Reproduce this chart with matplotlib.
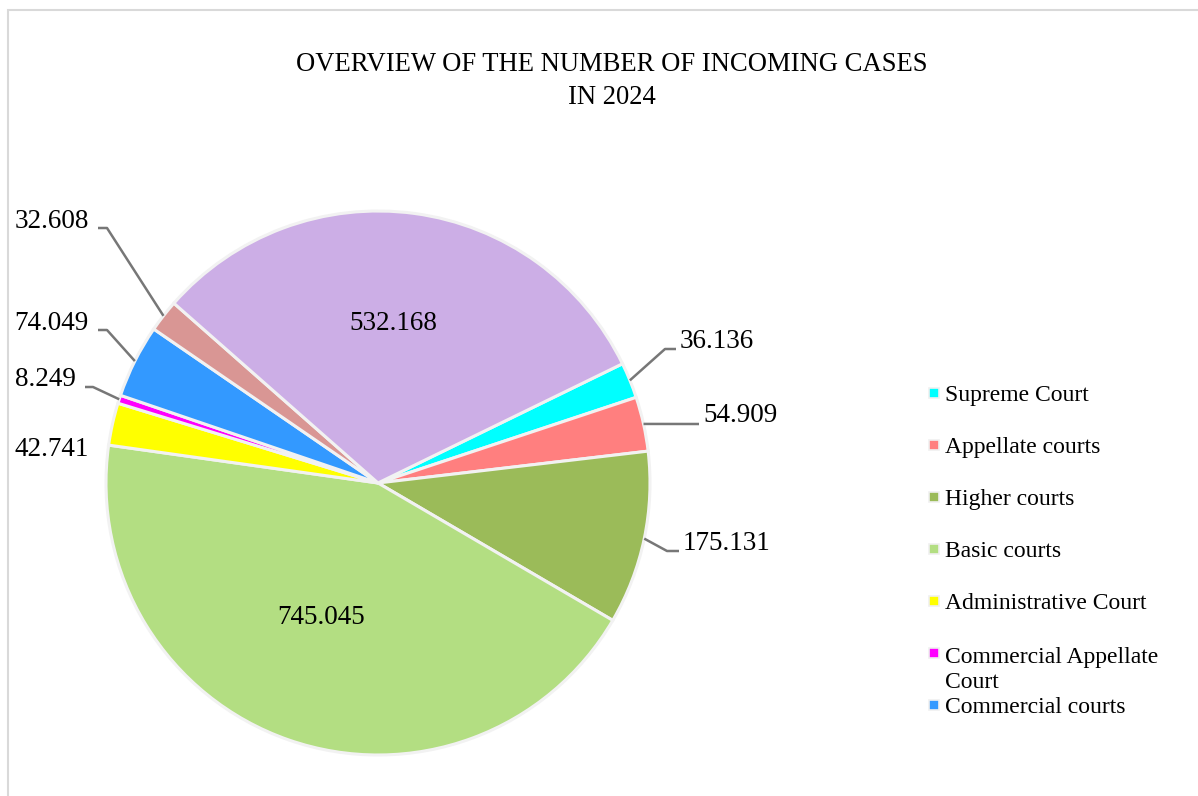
import numpy as np
import matplotlib.pyplot as plt
from matplotlib.patches import Rectangle

plt.rcParams['font.family'] = ['Liberation Serif', 'DejaVu Serif']

# data
courts = ['Supreme Court', 'Appellate courts', 'Higher courts', 'Basic courts',
          'Administrative Court', 'Commercial Appellate\nCourt', 'Commercial courts',
          'Misdemeanour Appellate Court', 'Misdemeanour courts']
cases = [36.136, 54.909, 175.131, 745.045, 42.741, 8.249, 74.049, 32.608, 532.168]
labels = ['36.136', '54.909', '175.131', '745.045', '42.741', '8.249', '74.049', '32.608', '532.168']
colors = ['#00ffff', '#ff7f7f', '#9bbb59', '#b3de82', '#ffff00', '#ff00ff', '#3399ff',
          '#d99694', '#ccaee6']
n_legend = 7  # only the first seven are visible in the legend

W, H = 1198, 796
fig = plt.figure(figsize=(W / 100, H / 100), dpi=100)
ax = fig.add_axes([0, 0, 1, 1])

cx, cy, R = 378, H - 483, 272
wedges, _ = ax.pie(cases, colors=colors, startangle=26, counterclock=False,
                   radius=R, center=(cx, cy),
                   wedgeprops=dict(edgecolor='#f2f2f2', linewidth=2.2))
ax.set_xlim(0, W)
ax.set_ylim(0, H)
ax.set_aspect('equal')
ax.axis('off')

# label layout (image pixel coords): kind, text x, text y, elbow x, line y
layout = [
    ('right', 680, 342, 665, 349),
    ('right', 703, 416, None, 424),
    ('right', 683, 543, 667, 551),
    ('inner', 321, 618, None, None),
    ('left', 89, 449, None, None),
    ('left', 76, 379, 93, 387),
    ('left', 89, 324, 107, 330),
    ('left', 89, 222, 107, 228),
    ('inner', 393, 324, None, None),
]

fs = 19.5
lc = '#777777'
for w, lab, (kind, a, b, ex, ly) in zip(wedges, labels, layout):
    if kind == 'inner':
        ax.text(a, H - b, lab, ha='center', va='center', fontsize=fs, color='#000000')
        continue
    mid = np.deg2rad((w.theta1 + w.theta2) / 2)
    px, py = cx + R * np.cos(mid), cy + R * np.sin(mid)
    ha = 'left' if kind == 'right' else 'right'
    ax.text(a, H - b, lab, ha=ha, va='center', fontsize=fs, color='#000000')
    if ly is None:
        continue
    end = a - 4 if kind == 'right' else a + 9
    if ex is None:
        xs, ys = [px, end], [py, H - ly]
    else:
        xs, ys = [px, ex, end], [py, H - ly, H - ly]
    ax.plot(xs, ys, color=lc, lw=1.8, solid_capstyle='butt')

# legend
line_gap = 27
for i in range(n_legend):
    y = 393 + 52 * i
    nl = courts[i].count('\n')
    fig.patches.append(Rectangle(((929) / W, 1 - (y + 5) / H), 10 / W, 10 / H,
                                 transform=fig.transFigure, facecolor=colors[i],
                                 edgecolor='#f0f0f0', linewidth=1.2))
    fig.text(945 / W, 1 - (y + 8 + nl * line_gap) / H, courts[i], ha='left',
             va='baseline', fontsize=17, linespacing=1.28)

# title
fig.text(612 / W, 1 - 81 / H, 'OVERVIEW OF THE NUMBER OF INCOMING CASES\nIN 2024',
         ha='center', va='center', fontsize=19.2, linespacing=1.45)

# chart border
fig.patches.append(Rectangle((8 / W, -0.05), 1.1, 1 - 10 / H + 0.05,
                             transform=fig.transFigure, fill=False,
                             edgecolor='#d9d9d9', linewidth=1.5))

fig.savefig('out.png', dpi=100)
